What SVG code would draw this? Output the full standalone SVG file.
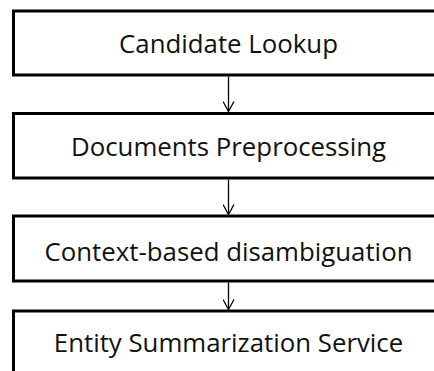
<svg xmlns="http://www.w3.org/2000/svg" width="434" height="371" viewBox="0 0 434 371">
<style>
.box{fill:#fff;stroke:#000;stroke-width:3}
.lbl{font-family:"Open Sans","Noto Sans","Liberation Sans",sans-serif;font-size:25.8px;fill:#111;text-anchor:middle}
.conn{stroke:#000;stroke-width:1.3;fill:none}
</style>
<defs>
<marker id="arr" viewBox="0 0 12 12" refX="11" refY="6" markerWidth="12" markerHeight="12" markerUnits="userSpaceOnUse" orient="auto">
<path d="M1,0.5 L11,6 L1,11.5" fill="none" stroke="#000" stroke-width="1.3"/>
</marker>
</defs>
<rect width="434" height="371" fill="#fff"/>
<g id="n1"><rect class="box" x="13.5" y="11" width="430" height="64"/><text class="lbl" x="228.5" y="53">Candidate Lookup</text></g>
<g id="n2"><rect class="box" x="13.5" y="113.5" width="430" height="64.5"/><text class="lbl" x="228.5" y="156">Documents Preprocessing</text></g>
<g id="n3"><rect class="box" x="13.5" y="216" width="430" height="65"/><text class="lbl" x="228.5" y="261">Context-based disambiguation</text></g>
<g id="n4"><rect class="box" x="13.5" y="311" width="430" height="80"/><text class="lbl" x="228.5" y="352">Entity Summarization Service</text></g>
<g id="connectors">
<line class="conn" x1="228.5" y1="76.5" x2="228.5" y2="111.5" marker-end="url(#arr)"/>
<line class="conn" x1="228.5" y1="179.5" x2="228.5" y2="214.5" marker-end="url(#arr)"/>
<line class="conn" x1="228.5" y1="282.5" x2="228.5" y2="309.5" marker-end="url(#arr)"/>
</g>
</svg>
